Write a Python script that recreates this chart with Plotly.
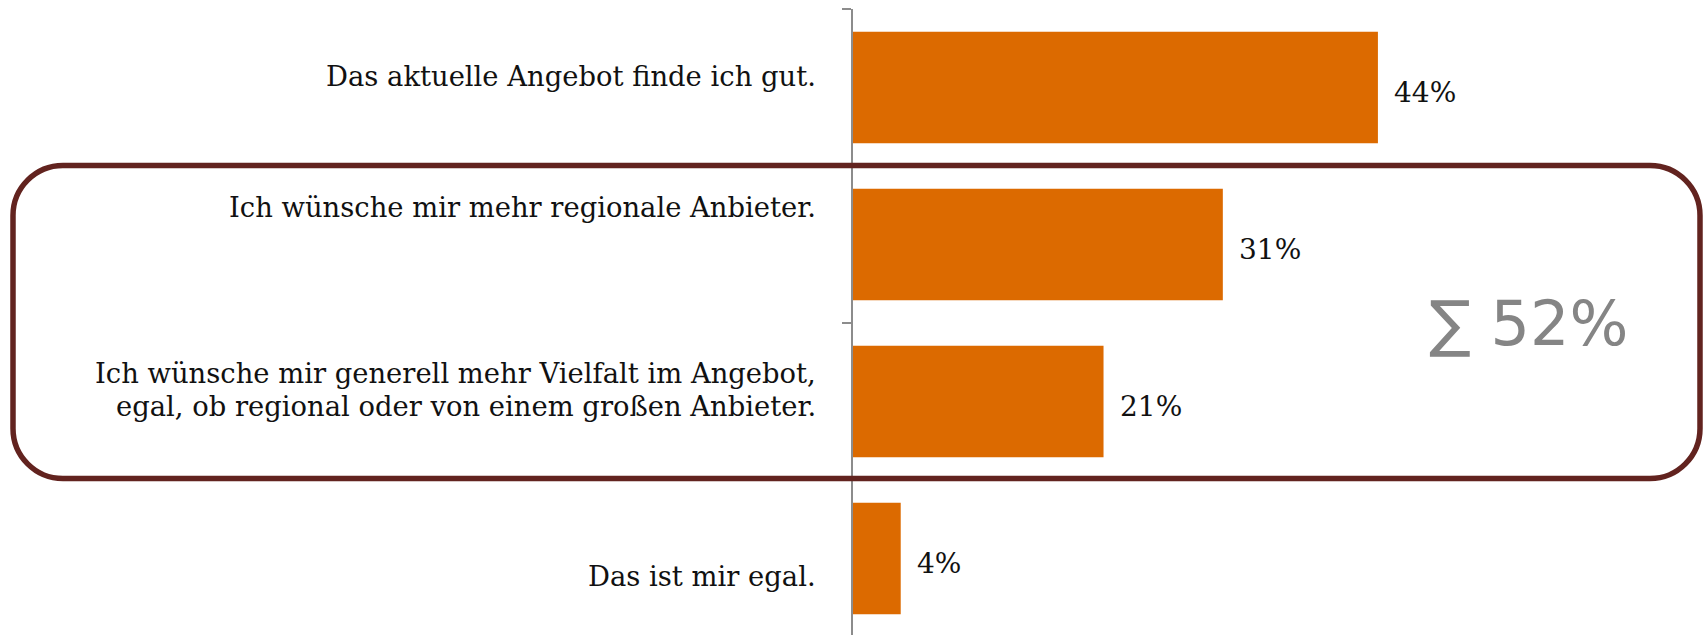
import plotly.graph_objects as go

# ---- data ----
categories = [
    "Das aktuelle Angebot finde ich gut.",
    "Ich wünsche mir mehr regionale Anbieter.",
    "Ich wünsche mir generell mehr Vielfalt im Angebot,<br>egal, ob regional oder von einem großen Anbieter.",
    "Das ist mir egal.",
]
values = [44, 31, 21, 4]
value_labels = ["44%", "31%", "21%", "4%"]
sum_label = "∑ 52%"

# ---- layout constants ----
W, H = 1707, 635
ML, MR, MT, MB = 853, 0, 9, 0
PX_PER_PCT = 11.93
CAT_PX = 157.0
plot_w = W - ML - MR
plot_h = H - MT - MB
x_max = plot_w / PX_PER_PCT
y_span = plot_h / CAT_PX

BAR_COLOR = "#DC6A00"
BOX_COLOR = "#62231F"
AXIS_COLOR = "#8C8C8C"
SERIF = "DejaVu Serif"
SANS = "DejaVu Sans"

label_yshift = [11, 37, 12, -18]
LINE_SPACING = 33


def px2paper(px, py):
    return (px - ML) / plot_w, 1 - (py - MT) / plot_h


def rounded_rect_path(x0, y0, x1, y1, r):
    k = 0.5523 * r
    def P(x, y):
        a, b = px2paper(x, y)
        return f"{a:.6f},{b:.6f}"
    d = f"M {P(x0 + r, y0)} L {P(x1 - r, y0)} "
    d += f"C {P(x1 - r + k, y0)} {P(x1, y0 + r - k)} {P(x1, y0 + r)} "
    d += f"L {P(x1, y1 - r)} "
    d += f"C {P(x1, y1 - r + k)} {P(x1 - r + k, y1)} {P(x1 - r, y1)} "
    d += f"L {P(x0 + r, y1)} "
    d += f"C {P(x0 + r - k, y1)} {P(x0, y1 - r + k)} {P(x0, y1 - r)} "
    d += f"L {P(x0, y0 + r)} "
    d += f"C {P(x0, y0 + r - k)} {P(x0 + r - k, y0)} {P(x0 + r, y0)} Z"
    return d


fig = go.Figure(
    go.Bar(
        x=values,
        y=categories,
        orientation="h",
        marker=dict(color=BAR_COLOR, line=dict(width=0)),
        width=0.71,
        hoverinfo="skip",
    )
)

annotations = []
for cat, dy in zip(categories, label_yshift):
    lines = cat.split("<br>")
    n = len(lines)
    for i, line in enumerate(lines):
        annotations.append(dict(
            x=0, xref="paper", y=cat, yref="y", text=line,
            xanchor="right", yanchor="middle", align="right",
            xshift=-35, yshift=dy + (n - 1) / 2 * LINE_SPACING - i * LINE_SPACING,
            showarrow=False,
            font=dict(family=SERIF, size=27.4, color="#111111"),
        ))
for cat, v, lab in zip(categories, values, value_labels):
    annotations.append(dict(
        x=v, xref="x", y=cat, yref="y", text=lab,
        xanchor="left", yanchor="middle",
        xshift=14, yshift=-5, showarrow=False,
        font=dict(family=SERIF, size=28, color="#111111"),
    ))
sx, sy = px2paper(1528, 323.5)
annotations.append(dict(
    x=sx, y=sy, xref="paper", yref="paper", text=sum_label,
    xanchor="center", yanchor="middle", showarrow=False,
    font=dict(family=SANS, size=62, color="#858585"),
))

fig.update_layout(
    width=W, height=H,
    margin=dict(l=ML, r=MR, t=MT, b=MB, autoexpand=False),
    paper_bgcolor="white", plot_bgcolor="white",
    showlegend=False,
    xaxis=dict(visible=False, range=[0, x_max], fixedrange=True),
    yaxis=dict(
        type="category",
        categoryorder="array", categoryarray=categories,
        autorange=False, range=[y_span - 0.5, -0.5],
        showline=True, linecolor=AXIS_COLOR, linewidth=1.5,
        ticks="outside", tickson="boundaries", ticklen=9,
        tickcolor=AXIS_COLOR, tickwidth=1.5,
        showticklabels=False, showgrid=False, zeroline=False,
        fixedrange=True,
    ),
    shapes=[dict(
        type="path", xref="paper", yref="paper",
        path=rounded_rect_path(13, 165.5, 1700, 478.5, 50),
        line=dict(color=BOX_COLOR, width=5.5),
        fillcolor="rgba(0,0,0,0)", layer="above",
    )],
    annotations=annotations,
)

fig.write_html(
    "out.html",
    config={"displayModeBar": False},
    post_script="document.body.style.margin='0';document.body.style.overflow='hidden';",
)
